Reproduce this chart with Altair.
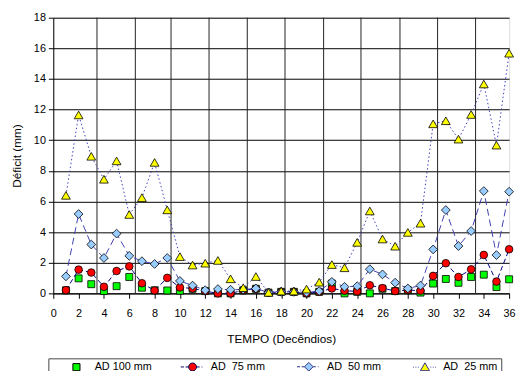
import altair as alt
import pandas as pd

decendios = list(range(1, 37))
ad100 = [0.2, 0.98, 0.6, 0.15, 0.47, 1.07, 0.37, 0.2, 0.19, 0.17, 0.3, 0.15,
         0.0, 0.0, 0.2, 0.3, 0.05, 0.1, 0.1, 0.0, 0.1, 0.64, 0.0, 0.1,
         0.0, 0.3, 0.15, 0.2, 0.05, 0.64, 0.94, 0.69, 1.07, 1.22, 0.41, 0.92]
ad75 = [0.21, 1.55, 1.36, 0.43, 1.46, 1.76, 0.66, 0.19, 1.01, 0.39, 0.32, 0.15,
        0.0, 0.0, 0.2, 0.3, 0.05, 0.1, 0.1, 0.0, 0.1, 0.32, 0.17, 0.13,
        0.53, 0.34, 0.15, 0.22, 0.17, 1.14, 1.97, 1.07, 1.57, 2.51, 0.77, 2.88]
ad50 = [1.11, 5.18, 3.19, 2.31, 3.9, 2.45, 2.1, 1.92, 2.31, 0.81, 0.51, 0.21,
        0.28, 0.24, 0.25, 0.32, 0.06, 0.1, 0.1, 0.06, 0.15, 0.75, 0.43, 0.47,
        1.58, 1.24, 0.7, 0.32, 0.51, 2.87, 5.44, 3.09, 4.07, 6.68, 2.5, 6.64]
ad25 = [6.4, 11.65, 8.95, 7.45, 8.65, 5.15, 6.25, 8.55, 5.45, 2.4, 1.85, 1.97,
        2.15, 0.95, 0.37, 1.1, 0.06, 0.15, 0.15, 0.28, 0.73, 1.88, 1.67, 3.33,
        5.38, 3.55, 3.08, 3.98, 4.58, 11.07, 11.27, 10.07, 11.68, 13.67, 9.68, 15.68]

series_names = ["AD 100 mm", "AD\u00a0\u00a075 mm", "AD\u00a0\u00a050 mm", "AD\u00a0\u00a025 mm"]
x_ticks = list(range(0, 37, 2))
y_ticks = list(range(0, 19, 2))
grid_x = [3.45, 6.48, 9.3, 12.3, 15.32, 18.3, 21.35, 24.3, 27.38, 30.35, 33.35]

rows = []
for name, vals in zip(series_names, [ad100, ad75, ad50, ad25]):
    for d, v in zip(decendios, vals):
        rows.append({"serie": name, "tempo": d, "deficit": v})
df = pd.DataFrame(rows)
grid_df = pd.DataFrame({"gx": grid_x})

FONT = "Liberation Sans"
x_scale = alt.Scale(domain=[0, 36], nice=False, zero=False)
y_scale = alt.Scale(domain=[0, 18], nice=False)

x_axis = alt.Axis(values=x_ticks, title="TEMPO (Decêndios)", grid=False,
                  domainColor="black", tickColor="black", tickSize=5,
                  labelPadding=10, labelFontSize=11, labelColor="black",
                  titleFontSize=12, titleFontWeight="normal", titlePadding=15,
                  titleColor="black", labelFont=FONT, titleFont=FONT,
                  labelFlush=False)
y_axis = alt.Axis(values=y_ticks, title="Déficit (mm)", grid=True,
                  gridColor="black", gridOpacity=1, gridWidth=1,
                  domainColor="black", tickColor="black", tickSize=5,
                  labelPadding=3, labelFontSize=11, labelColor="black",
                  titleFontSize=12, titleFontWeight="normal", titlePadding=10,
                  titleColor="black", labelFont=FONT, titleFont=FONT,
                  labelFlush=False)

styles = {
    series_names[0]: dict(shape="square", fill="#00FF00", size=50, line=None),
    series_names[1]: dict(shape="circle", fill="#FF0000", size=60, line=("#000080", [5, 3])),
    series_names[2]: dict(shape="diamond", fill="#99CCFF", size=80, line=("#4040B0", [7, 4])),
    series_names[3]: dict(shape="triangle-up", fill="#FFFF00", size=80, line=("#4040C0", [1.5, 2.5])),
}

base = alt.Chart(df)

vgrid = alt.Chart(grid_df).mark_rule(color="#222222", strokeWidth=1).encode(
    x=alt.X("gx:Q", scale=x_scale, axis=x_axis),
    y=alt.value(0),
    y2=alt.value(280),
)

def enc():
    return dict(x=alt.X("tempo:Q", scale=x_scale, axis=x_axis),
                y=alt.Y("deficit:Q", scale=y_scale, axis=y_axis))

layers = [vgrid]
for name in series_names:
    st = styles[name]
    sub = base.transform_filter(alt.datum.serie == name)
    if st["line"] is not None:
        col, dash = st["line"]
        layers.append(sub.mark_line(color=col, strokeDash=dash, strokeWidth=1).encode(**enc()))
    layers.append(sub.mark_point(shape=st["shape"], filled=True, fill=st["fill"],
                                 stroke="black", strokeWidth=0.8, size=st["size"],
                                 opacity=1).encode(**enc()))

leg_paths = [
    "M-0.9,-0.9H0.9V0.9H-0.9Z",
    "M-3,0H-2.2M-1.8,0H-1M1,0H1.8M2.3,0H2.5M-1,0A1,1,0,1,0,1,0A1,1,0,1,0,-1,0Z",
    "M-3,0H-2.2M-1.8,0H-1.1M1.1,0H1.8M2.3,0H2.5M0,-1.1L1.1,0L0,1.1L-1.1,0Z",
    "M-3,0H-2.8M-2.4,0H-2.2M-1.8,0H-1.6M1.4,0H1.6M2,0H2.2M2.6,0H2.8M0,-1.1L1.15,0.9H-1.15Z",
]
leg_fills = ["#00FF00", "#FF0000", "#99CCFF", "#FFFF00"]
leg_strokes = ["black", "#000060", "#303080", "#303080"]

legend = alt.Legend(title=None, orient="none", legendX=-5, legendY=346,
                    direction="horizontal", columns=4, gridAlign="all",
                    padding=3, strokeColor="#444444", symbolSize=64,
                    symbolOffset=20, labelOffset=13, columnPadding=15,
                    labelFontSize=11, labelFont=FONT, labelColor="black",
                    symbolStrokeWidth=1, symbolOpacity=1)

leg_layer = base.mark_point(opacity=0, filled=True).encode(
    shape=alt.Shape("serie:N", scale=alt.Scale(domain=series_names, range=leg_paths),
                    legend=legend, sort=series_names),
    fill=alt.Fill("serie:N", scale=alt.Scale(domain=series_names, range=leg_fills),
                  legend=legend, sort=series_names),
    stroke=alt.Stroke("serie:N", scale=alt.Scale(domain=series_names, range=leg_strokes),
                      legend=legend, sort=series_names),
    **enc(),
)
layers.append(leg_layer)

chart = alt.layer(*layers).properties(
    width=463, height=280,
    autosize=alt.AutoSizeParams(type="none"),
    padding={"left": 46, "top": 7, "right": 8, "bottom": 76},
).configure_view(stroke=None).configure(font=FONT)

chart.save("out.html", embed_options={"renderer": "svg", "actions": False})
